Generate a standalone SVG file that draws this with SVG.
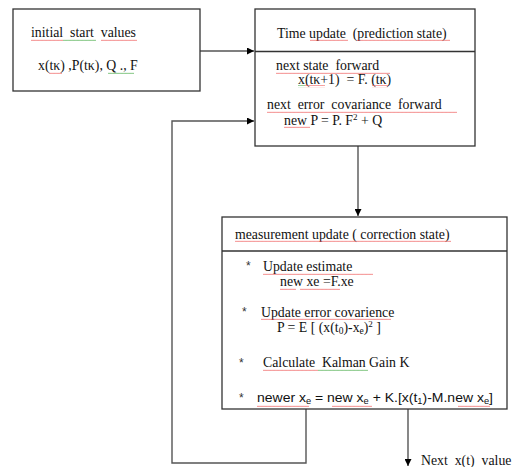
<svg xmlns="http://www.w3.org/2000/svg" width="519" height="467" viewBox="0 0 519 467">
<defs>
<style>
.box{fill:#fff;stroke:#333;stroke-width:1.3}
.div{stroke:#333;stroke-width:1.3}
.con{fill:none;stroke:#555;stroke-width:1.4}
.t{font-family:"Liberation Serif","Times New Roman",serif;font-size:13.8px;fill:#111;white-space:pre}
.s{font-family:"Liberation Sans",Arial,sans-serif;font-size:13.5px;fill:#111;white-space:pre}
.b{font-family:"Liberation Sans",Arial,sans-serif;font-size:12px;fill:#333}
</style>
<marker id="ah" viewBox="0 0 10 10" refX="10" refY="5" markerWidth="7" markerHeight="7" markerUnits="userSpaceOnUse" orient="auto">
<path d="M0,0 L10,5 L0,10 z" fill="#000"/>
</marker>
<pattern id="wv" width="4" height="3" patternUnits="userSpaceOnUse">
<path d="M0,2 L1,0.8 L2,2 L3,0.8 L4,2" fill="none" stroke="#e55" stroke-width="0.6"/>
</pattern>
<pattern id="wg" width="4" height="3" patternUnits="userSpaceOnUse">
<path d="M0,2 L1,0.8 L2,2 L3,0.8 L4,2" fill="none" stroke="#4a4" stroke-width="0.6"/>
</pattern>
</defs>

<g id="connectors">
<path class="con" d="M200,51 L254,51" marker-end="url(#ah)"/>
<path class="con" d="M358,146 L358,216" marker-end="url(#ah)"/>
<path class="con" d="M306,409 L306,463 L172,463 L172,121 L254,121" marker-end="url(#ah)"/>
<path class="con" d="M408,409 L408,466" marker-end="url(#ah)"/>
</g>

<g id="init">
<rect class="box" x="13" y="9" width="187" height="82"/>
<text class="t" x="31" y="37" xml:space="preserve">initial  start  values</text>
<text class="t" x="38" y="70" xml:space="preserve">x(tκ) ,P(tκ), Q ., F</text>
<rect x="31" y="38" width="32" height="3" fill="url(#wv)"/>
<rect x="63" y="38" width="33" height="3" fill="url(#wg)"/>
<rect x="101" y="38" width="36" height="3" fill="url(#wv)"/>
<rect x="49" y="71" width="13" height="3" fill="url(#wv)"/>
<rect x="108" y="71" width="26" height="3" fill="url(#wg)"/>
</g>

<g id="timeupdate">
<rect class="box" x="255" y="9" width="220" height="137"/>
<line class="div" x1="255" y1="51.5" x2="475" y2="51.5"/>
<text class="t" x="277" y="38" xml:space="preserve">Time update  (prediction state)</text>
<text class="t" x="276" y="70" xml:space="preserve">next state  forward</text>
<text class="t" x="298" y="84" xml:space="preserve">x(tκ+1)  = F. (tκ)</text>
<text class="t" x="267" y="109" xml:space="preserve">next  error  covariance  forward</text>
<text class="t" x="284" y="125" xml:space="preserve">new P = P. F<tspan font-size="9" dy="-5">2</tspan><tspan dy="5"> + Q</tspan></text>
<rect x="310" y="39" width="38" height="3" fill="url(#wv)"/>
<rect x="357" y="39" width="93" height="3" fill="url(#wv)"/>
<rect x="276" y="71" width="114" height="3" fill="url(#wv)"/>
<rect x="298" y="85" width="7" height="3" fill="url(#wg)"/>
<rect x="305" y="85" width="20" height="3" fill="url(#wv)"/>
<rect x="372" y="85" width="16" height="3" fill="url(#wv)"/>
<rect x="267" y="110" width="190" height="3" fill="url(#wv)"/>
<rect x="284" y="126" width="26" height="3" fill="url(#wv)"/>
</g>

<g id="measupdate">
<rect class="box" x="222" y="217" width="285" height="192"/>
<line class="div" x1="222" y1="251" x2="507" y2="251"/>
<text class="t" x="235" y="239" xml:space="preserve">measurement update ( correction state)</text>
<text class="b" x="246" y="270">*</text>
<text class="t" x="263" y="271" xml:space="preserve">Update estimate</text>
<text class="t" x="280" y="286" xml:space="preserve">new xe =F.xe</text>
<text class="b" x="242" y="316">*</text>
<text class="t" x="261" y="317" xml:space="preserve">Update error covarience</text>
<text class="t" x="277" y="332" xml:space="preserve">P = E [ (x(t<tspan font-size="9.5" dy="2">0</tspan><tspan dy="-2">)-x</tspan><tspan font-size="9.5" dy="2">e</tspan><tspan dy="-2">)</tspan><tspan font-size="9" dy="-5">2</tspan><tspan dy="5"> ]</tspan></text>
<text class="b" x="239" y="367">*</text>
<text class="t" x="263" y="367" xml:space="preserve">Calculate  Kalman Gain K</text>
<text class="b" x="239" y="402">*</text>
<text class="s" x="257" y="402" textLength="236" lengthAdjust="spacingAndGlyphs" xml:space="preserve">newer x<tspan font-size="9" dy="2">e</tspan><tspan dy="-2"> = new x</tspan><tspan font-size="9" dy="2">e</tspan><tspan dy="-2"> + K.[x(t</tspan><tspan font-size="9" dy="2">1</tspan><tspan dy="-2">)-M.new x</tspan><tspan font-size="9" dy="2">e</tspan><tspan dy="-2">]</tspan></text>
<rect x="235" y="240" width="216" height="3" fill="url(#wv)"/>
<rect x="263" y="272" width="110" height="3" fill="url(#wv)"/>
<rect x="280" y="287" width="16" height="3" fill="url(#wv)"/>
<rect x="300" y="287" width="40" height="3" fill="url(#wv)"/>
<rect x="261" y="318" width="130" height="3" fill="url(#wv)"/>
<rect x="263" y="368" width="55" height="3" fill="url(#wv)"/>
<rect x="318" y="368" width="50" height="3" fill="url(#wg)"/>
<rect x="257" y="404" width="52" height="3" fill="url(#wv)"/>
<rect x="332" y="404" width="40" height="3" fill="url(#wv)"/>
<rect x="458" y="404" width="32" height="3" fill="url(#wv)"/>
</g>

<g id="output">
<text class="t" x="421" y="465" xml:space="preserve">Next  x(t)  value</text>
</g>
</svg>
